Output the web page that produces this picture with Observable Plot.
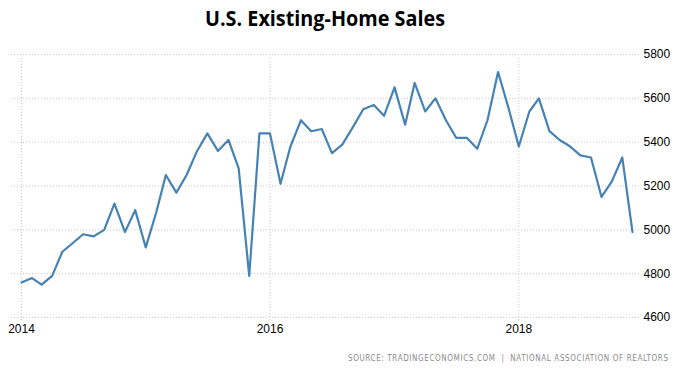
<!DOCTYPE html>
<html><head><meta charset="utf-8">
<script src="https://cdn.jsdelivr.net/npm/d3@7"></script>
<script src="https://cdn.jsdelivr.net/npm/@observablehq/plot@0.6"></script>
<style>
body{margin:0;background:#fff;}
svg{display:block;}
</style></head><body>
<div id="root"></div>
<script>
const titleText = "U.S. Existing-Home Sales";
const sourceText = "SOURCE: TRADINGECONOMICS.COM  |  NATIONAL ASSOCIATION OF REALTORS";

const months = [
  "2014-01","2014-02","2014-03","2014-04","2014-05","2014-06","2014-07","2014-08","2014-09","2014-10","2014-11","2014-12",
  "2015-01","2015-02","2015-03","2015-04","2015-05","2015-06","2015-07","2015-08","2015-09","2015-10","2015-11","2015-12",
  "2016-01","2016-02","2016-03","2016-04","2016-05","2016-06","2016-07","2016-08","2016-09","2016-10","2016-11","2016-12",
  "2017-01","2017-02","2017-03","2017-04","2017-05","2017-06","2017-07","2017-08","2017-09","2017-10","2017-11","2017-12",
  "2018-01","2018-02","2018-03","2018-04","2018-05","2018-06","2018-07","2018-08","2018-09","2018-10","2018-11","2018-12"
];
const sales = [
  4760,4780,4750,4790,4900,4940,4980,4970,5000,5120,4990,5090,
  4920,5080,5250,5170,5250,5360,5440,5360,5410,5280,4790,5440,
  5440,5210,5380,5500,5450,5460,5350,5390,5470,5550,5570,5520,
  5650,5480,5670,5540,5600,5500,5420,5420,5370,5500,5720,5560,
  5380,5540,5600,5450,5410,5380,5340,5330,5150,5220,5330,4990
];
const yTicks = [4600,4800,5000,5200,5400,5600,5800];
const xTickYears = ["2014","2016","2018"];

const parseMonth = d3.utcParse("%Y-%m");
const parseYear = d3.utcParse("%Y");
const data = months.map((m, i) => ({date: parseMonth(m), value: sales[i]}));
const xTicks = xTickYears.map(parseYear);

const root = document.getElementById("root");
const NS = "http://www.w3.org/2000/svg";

// Title
const tsvg = document.createElementNS(NS, "svg");
tsvg.setAttribute("width", 677); tsvg.setAttribute("height", 38);
const tt = document.createElementNS(NS, "text");
tt.setAttribute("x", 325); tt.setAttribute("y", 26);
tt.setAttribute("text-anchor", "middle");
tt.setAttribute("font-family", "'Open Sans', 'Noto Sans', sans-serif");
tt.setAttribute("font-weight", "bold");
tt.setAttribute("font-size", 21);
tt.setAttribute("textLength", 240);
tt.setAttribute("lengthAdjust", "spacingAndGlyphs");
tt.setAttribute("fill", "#000");
tt.textContent = titleText;
tsvg.appendChild(tt);
root.appendChild(tsvg);

// Chart
const chart = Plot.plot({
  width: 677,
  height: 300,
  marginTop: 16,
  marginBottom: 21,
  marginLeft: 21,
  marginRight: 45,
  style: {fontFamily: "'Liberation Sans', Arial, sans-serif", fontSize: "12px", color: "#000", background: "#fff"},
  x: {type: "utc", domain: [parseMonth("2014-01"), parseMonth("2018-12")]},
  y: {domain: [4600, 5800]},
  marks: [
    Plot.ruleY(yTicks, {stroke: "#c8c8c8", strokeDasharray: "1,2", strokeWidth: 1, insetLeft: -10, insetRight: -9}),
    Plot.ruleX(xTicks, {stroke: "#c8c8c8", strokeDasharray: "1,2", strokeWidth: 1, insetTop: 4, insetBottom: -5}),
    Plot.axisY(yTicks, {anchor: "right", tickSize: 0, tickPadding: 11, textAnchor: "start", label: null, tickFormat: d => String(d), fill: "#000"}),
    Plot.axisX(xTicks, {anchor: "bottom", tickSize: 0, tickPadding: 7, label: null, tickFormat: d3.utcFormat("%Y"), fill: "#000"}),
    Plot.line(data, {x: "date", y: "value", stroke: "#4682b4", strokeWidth: 2.2, curve: "linear"})
  ]
});
root.appendChild(chart);

// Source
const ssvg = document.createElementNS(NS, "svg");
ssvg.setAttribute("width", 677); ssvg.setAttribute("height", 38);
const st = document.createElementNS(NS, "text");
st.setAttribute("x", 668); st.setAttribute("y", 23);
st.setAttribute("text-anchor", "end");
st.setAttribute("font-family", "'DejaVu Sans Condensed', 'DejaVu Sans', sans-serif");
st.setAttribute("font-size", 8);
st.setAttribute("xml:space", "preserve");
st.style.whiteSpace = "pre";
st.setAttribute("textLength", 320);
st.setAttribute("lengthAdjust", "spacing");
st.setAttribute("fill", "#8c8c8c");
st.textContent = sourceText;
ssvg.appendChild(st);
root.appendChild(ssvg);
</script>
</body></html>
